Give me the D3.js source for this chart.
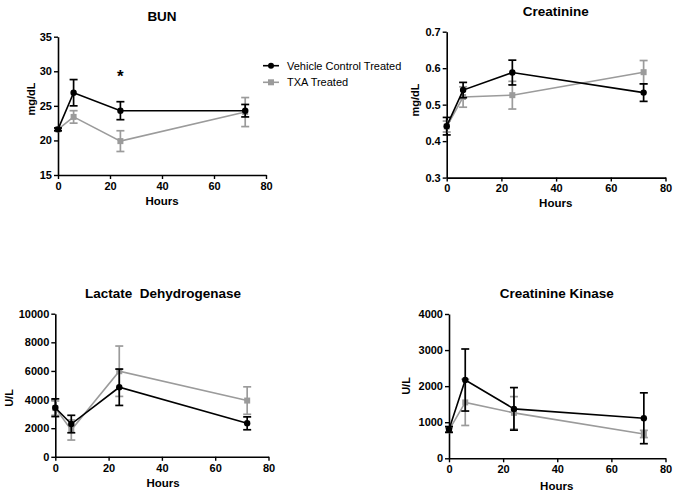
<!DOCTYPE html>
<html><head><meta charset="utf-8">
<script src="https://cdn.jsdelivr.net/npm/d3@7"></script>
<style>
html,body{margin:0;padding:0;background:#fff;}
svg{display:block;font-family:"Liberation Sans",Arial,sans-serif;}
</style></head>
<body>
<svg id="chart" width="675" height="494"></svg>
<script>
const hours = [0, 6, 24, 72];
const xTicks = [0, 20, 40, 60, 80];
const seriesNames = ["Vehicle Control Treated", "TXA Treated"];

const bunVehicle = [21.6, 26.9, 24.3, 24.3];
const bunVehicleErr = [0.2, 1.9, 1.3, 0.9];
const bunTXA = [21.6, 23.4, 19.9, 24.1];
const bunTXAErr = [0.2, 0.9, 1.5, 2.1];
const bunTicks = [15, 20, 25, 30, 35];

const creatVehicle = [0.441, 0.540, 0.588, 0.533];
const creatVehicleErr = [0.024, 0.021, 0.034, 0.024];
const creatTXA = [0.440, 0.521, 0.526, 0.589];
const creatTXAErr = [0.015, 0.028, 0.038, 0.032];
const creatTicks = [0.3, 0.4, 0.5, 0.6, 0.7];

const ldhVehicle = [3430, 2290, 4860, 2340];
const ldhVehicleErr = [620, 610, 1270, 450];
const ldhTXA = [3400, 1870, 5980, 3930];
const ldhTXAErr = [500, 700, 1760, 960];
const ldhTicks = [0, 2000, 4000, 6000, 8000, 10000];

const ckVehicle = [800, 2170, 1370, 1110];
const ckVehicleErr = [80, 860, 590, 705];
const ckTXA = [780, 1550, 1260, 675];
const ckTXAErr = [60, 640, 450, 100];
const ckTicks = [0, 1000, 2000, 3000, 4000];

const BLACK = "#000", GRAY = "#9b9b9b";

const panels = [
  {title:"BUN", ylab:"mg/dL", yTicks:bunTicks, fmt:d3.format("d"),
   v:bunVehicle, ve:bunVehicleErr, t:bunTXA, te:bunTXAErr,
   xr:[58,266], yr:[175,36.7], titleY:20.5, titleX:162, hoursY:205, ylabX:35, ylabY:99, star:24},
  {title:"Creatinine", ylab:"mg/dL", yTicks:creatTicks, fmt:d3.format(".1f"),
   v:creatVehicle, ve:creatVehicleErr, t:creatTXA, te:creatTXAErr,
   xr:[446.7,665.5], yr:[177.6,31.7], titleY:15.5, titleX:555.7, hoursY:207, ylabX:419, ylabY:100},
  {title:"Lactate  Dehydrogenase", ylab:"U/L", yTicks:ldhTicks, fmt:d3.format("d"),
   v:ldhVehicle, ve:ldhVehicleErr, t:ldhTXA, te:ldhTXAErr,
   xr:[55.3,268.5], yr:[456.8,313.7], titleY:297.5, titleX:163, hoursY:487, ylabX:13, ylabY:398},
  {title:"Creatinine Kinase", ylab:"U/L", yTicks:ckTicks, fmt:d3.format("d"),
   v:ckVehicle, ve:ckVehicleErr, t:ckTXA, te:ckTXAErr,
   xr:[449,665.5], yr:[458.3,314], titleY:297.5, titleX:556.7, hoursY:489.5, ylabX:410, ylabY:386}
];

const svg = d3.select("#chart");

function drawSeries(g, x, y, vals, errs, color, marker) {
  const data = hours.map((h,i)=>({h, v:vals[i], e:errs[i]}));
  const cap = 4;
  const eb = g.append("g");
  data.forEach(d=>{
    eb.append("line").attr("x1",x(d.h)).attr("x2",x(d.h))
      .attr("y1",y(d.v-d.e)).attr("y2",y(d.v+d.e))
      .attr("stroke",color).attr("stroke-width",1.7);
    [d.v-d.e, d.v+d.e].forEach(yy=>{
      eb.append("line").attr("x1",x(d.h)-cap).attr("x2",x(d.h)+cap)
        .attr("y1",y(yy)).attr("y2",y(yy))
        .attr("stroke",color).attr("stroke-width",1.7);
    });
  });
  g.append("path").datum(data)
    .attr("d", d3.line().x(d=>x(d.h)).y(d=>y(d.v)))
    .attr("fill","none").attr("stroke",color).attr("stroke-width",1.6);
  data.forEach(d=>{
    if (marker==="circle") {
      g.append("circle").attr("cx",x(d.h)).attr("cy",y(d.v)).attr("r",3.2).attr("fill",color);
    } else {
      g.append("rect").attr("x",x(d.h)-3).attr("y",y(d.v)-3).attr("width",6).attr("height",6).attr("fill",color);
    }
  });
}

panels.forEach(p=>{
  const x = d3.scaleLinear().domain([0,80]).range(p.xr);
  const y = d3.scaleLinear().domain([p.yTicks[0], p.yTicks[p.yTicks.length-1]]).range(p.yr);
  const g = svg.append("g");

  const ya = g.append("g").attr("transform",`translate(${p.xr[0]},0)`)
    .call(d3.axisLeft(y).tickValues(p.yTicks).tickFormat(p.fmt).tickSize(4).tickSizeOuter(0).tickPadding(2));
  const xa = g.append("g").attr("transform",`translate(0,${p.yr[0]})`)
    .call(d3.axisBottom(x).tickValues(xTicks).tickSize(4).tickSizeOuter(0).tickPadding(3));
  [ya,xa].forEach(a=>{
    a.select(".domain").attr("stroke","#000").attr("stroke-width",1.6);
    a.selectAll(".tick line").attr("stroke","#000").attr("stroke-width",1.4);
    a.selectAll(".tick text").attr("fill","#000").attr("font-size","11px").attr("font-weight","bold")
      .attr("font-family","'Liberation Sans',Arial,sans-serif");
  });

  drawSeries(g, x, y, p.t, p.te, GRAY, "square");
  drawSeries(g, x, y, p.v, p.ve, BLACK, "circle");

  g.append("text").attr("x",p.titleX).attr("y",p.titleY).attr("text-anchor","middle")
    .attr("font-size","13.5px").attr("font-weight","bold").attr("xml:space","preserve")
    .style("white-space","pre").text(p.title);
  g.append("text").attr("x",p.titleX).attr("y",p.hoursY).attr("text-anchor","middle")
    .attr("font-size","11.5px").attr("font-weight","bold").text("Hours");
  g.append("text").attr("transform",`translate(${p.ylabX},${p.ylabY}) rotate(-90)`)
    .attr("text-anchor","middle").attr("font-size","11px").attr("font-weight","bold").text(p.ylab);

  if (p.star !== undefined) {
    g.append("text").attr("x",x(p.star)).attr("y",82).attr("text-anchor","middle")
      .attr("font-size","17px").attr("font-weight","bold").text("*");
  }
});

// Legend
const leg = svg.append("g");
[[BLACK,"circle",65.7],[GRAY,"square",82.3]].forEach((s,i)=>{
  leg.append("line").attr("x1",263).attr("x2",279).attr("y1",s[2]).attr("y2",s[2])
    .attr("stroke",s[0]).attr("stroke-width",1.6);
  if (s[1]==="circle") leg.append("circle").attr("cx",271).attr("cy",s[2]).attr("r",3).attr("fill",s[0]);
  else leg.append("rect").attr("x",268).attr("y",s[2]-3).attr("width",6).attr("height",6).attr("fill",s[0]);
  leg.append("text").attr("x",287).attr("y",s[2]+4).attr("font-size","11px").attr("fill","#000")
    .text(seriesNames[i]);
});
</script>
</body></html>
